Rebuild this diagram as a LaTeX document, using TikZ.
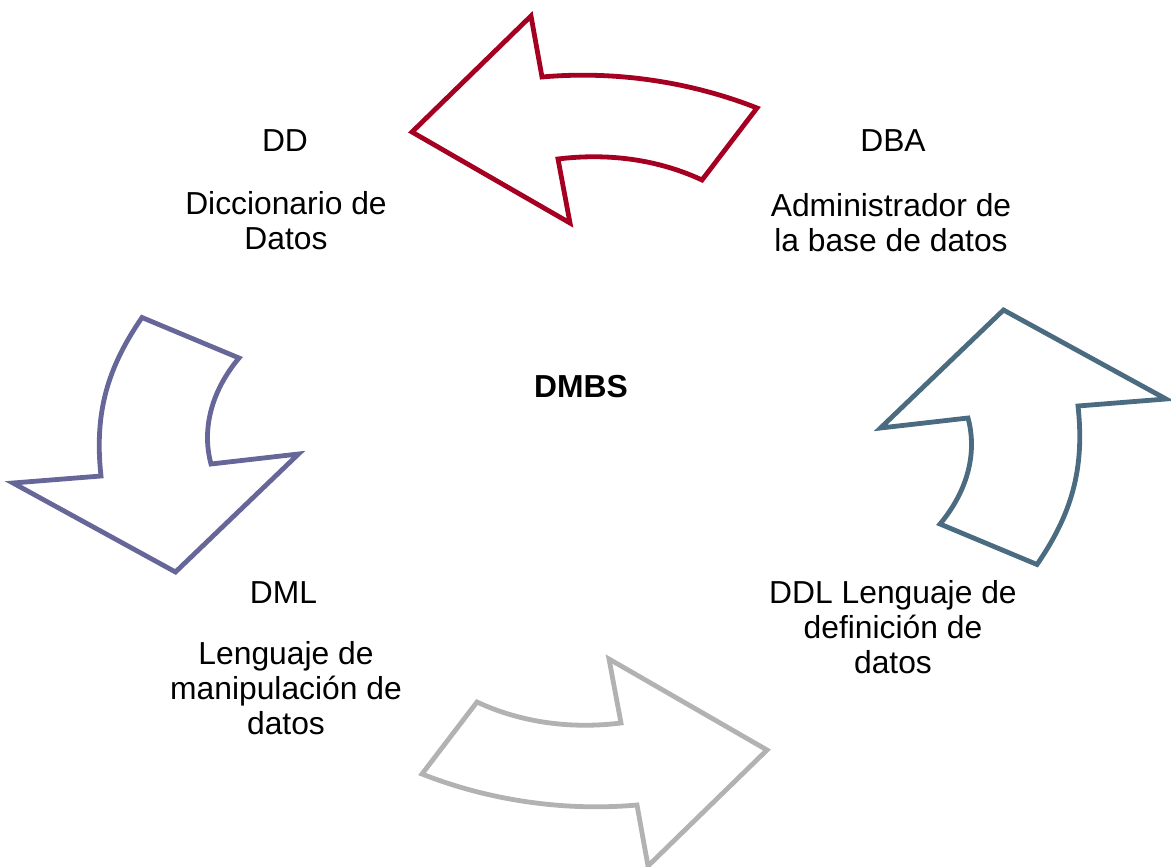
\documentclass[tikz,border=0pt]{standalone}
\usepackage{fontspec}
\setmainfont{Liberation Sans}
\definecolor{rougeHaut}{HTML}{A50021}
\definecolor{violetGauche}{HTML}{666699}
\definecolor{bleuDroite}{HTML}{4A6B80}
\definecolor{grisBas}{HTML}{B2B2B2}
\begin{document}
\begin{tikzpicture}[x=1pt,y=-1pt,
    fleche/.style={line width=4.8pt, fill=white},
    texte/.style={font=\fontsize{31.8}{35}\selectfont, align=center, inner sep=0pt}]
      \useasboundingbox (0,0) rectangle (1171,867);

      % Fleche du haut
      \draw[fleche, draw=rougeHaut] (412,132) -- (531,16) -- (542,77)
        .. controls (614,70.5) and (690,81.5) .. (757,108) -- (702,180)
        .. controls (656.6,158.8) and (606.5,153) .. (558,159) -- (570,223) -- cycle;

      % Fleche du bas (la meme, tournee)
      \draw[fleche, draw=grisBas, rotate around={180:(589.5,441)}] (412,132) -- (531,16) -- (542,77)
        .. controls (614,70.5) and (690,81.5) .. (757,108) -- (702,180)
        .. controls (656.6,158.8) and (606.5,153) .. (558,159) -- (570,223) -- cycle;

      % Fleche de gauche
      \draw[fleche, draw=violetGauche] (101,476)
        .. controls (94,412) and (108,367) .. (142,317.5) -- (239,358)
        .. controls (213,389) and (201,427) .. (211,464) -- (298.5,454) -- (175.5,572) -- (13,483) -- cycle;

      % Fleche de droite (la meme, tournee)
      \draw[fleche, draw=bleuDroite, rotate around={180:(589.5,441)}] (101,476)
        .. controls (94,412) and (108,367) .. (142,317.5) -- (239,358)
        .. controls (213,389) and (201,427) .. (211,464) -- (298.5,454) -- (175.5,572) -- (13,483) -- cycle;

      % Textes
      \node[texte] (dd) at (285,141) {DD};
      \node[texte] (ddtexte) at (286,220.5) {Diccionario de\\Datos};
      \node[texte] (dba) at (893,141) {DBA};
      \node[texte] (dbatexte) at (891,223) {Administrador de\\la base de datos};
      \node[texte] (dmbs) at (581,386.5) {\bfseries DMBS};
      \node[texte] (dml) at (283.5,593) {DML};
      \node[texte] (dmltexte) at (286,688) {Lenguaje de\\manipulación de\\datos};
      \node[texte] (ddl) at (893,627) {DDL Lenguaje de\\definición de\\datos};
    \end{tikzpicture}
\end{document}
